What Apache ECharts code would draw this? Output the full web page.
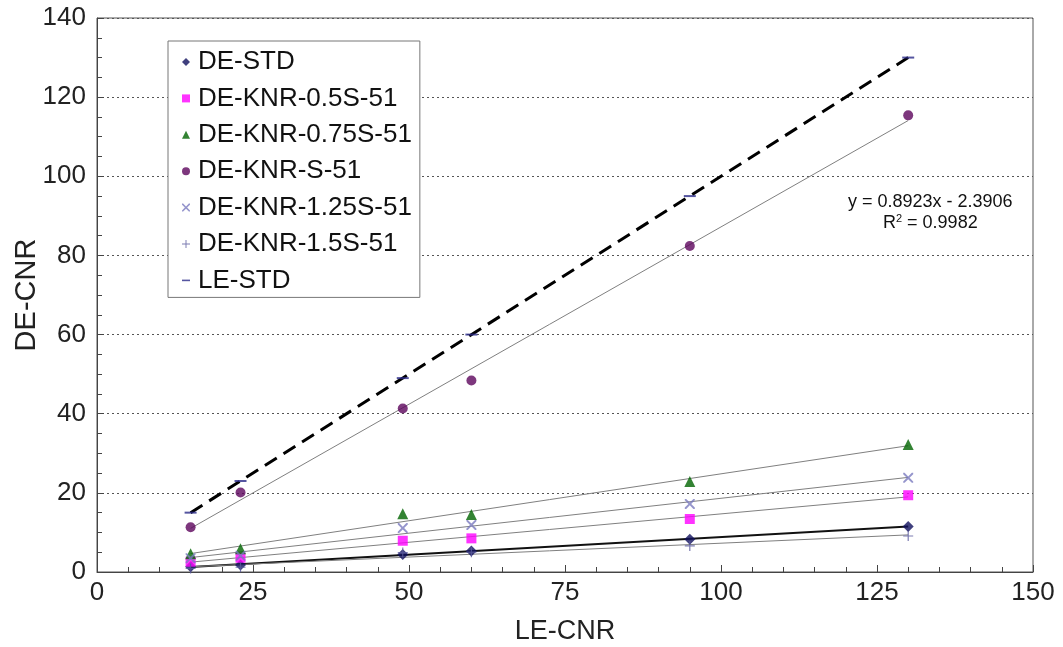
<!DOCTYPE html>
<html>
<head>
<meta charset="utf-8">
<style>
  html, body { margin: 0; padding: 0; background: #fff; }
  #chart { width: 1063px; height: 647px; }
</style>
<script src="https://cdn.jsdelivr.net/npm/echarts@6/dist/echarts.min.js"></script>
</head>
<body>
<div id="chart"></div>
<script>
// LE-CNR values (x) shared by every series
var leCnr = [15, 23, 49, 60, 95, 130];

// DE-CNR values
var deStd = [1.3, 1.8, 4.4, 5.3, 8.3, 11.5];
var knr05 = [2.6, 3.6, 7.9, 8.5, 13.4, 19.4];
var knr075 = [4.6, 5.9, 14.7, 14.5, 22.9, 32.2];
var knrS = [11.3, 20.1, 41.3, 48.4, 82.4, 115.4];
var knr125 = [3.5, 4.1, 11.1, 11.9, 17.2, 23.8];
var knr15 = [0.9, 1.2, 4.9, 5.0, 6.6, 9.1];
var leStd = [15, 23, 49, 60, 95, 130];

var xTicks = [0, 25, 50, 75, 100, 125, 150];
var yTicks = [0, 20, 40, 60, 80, 100, 120, 140];

var fitText = 'y = 0.8923x - 2.3906';
var r2Text = '0.9982';

var FONT = '"Liberation Sans", Arial, sans-serif';

var crossPath = 'path://M0,0 L1.4,0 L5,3.6 L8.6,0 L10,0 L10,1.4 L6.4,5 L10,8.6 L10,10 L8.6,10 L5,6.4 L1.4,10 L0,10 L0,8.6 L3.6,5 L0,1.4 Z';
var plusPath = 'path://M4.4,0 H5.6 V4.4 H10 V5.6 H5.6 V10 H4.4 V5.6 H0 V4.4 H4.4 Z';
var dashPath = 'path://M0,0 H10 V2 H0 Z';

function pairs(ys) {
  return leCnr.map(function (x, i) { return [x, ys[i]]; });
}

// least squares fit, drawn from the smallest to the largest x
function fitLine(ys) {
  var n = leCnr.length, sx = 0, sy = 0, sxx = 0, sxy = 0;
  for (var i = 0; i < n; i++) {
    sx += leCnr[i]; sy += ys[i];
    sxx += leCnr[i] * leCnr[i]; sxy += leCnr[i] * ys[i];
  }
  var b = (n * sxy - sx * sy) / (n * sxx - sx * sx);
  var a = (sy - b * sx) / n;
  var x0 = Math.min.apply(null, leCnr), x1 = Math.max.apply(null, leCnr);
  return [[x0, a + b * x0], [x1, a + b * x1]];
}

var defs = [
  { name: 'DE-STD', data: deStd, symbol: 'diamond', size: 11, color: '#10105e', fit: { color: '#111', width: 2 } },
  { name: 'DE-KNR-0.5S-51', data: knr05, symbol: 'rect', size: 10, color: '#ff00ff', fit: { color: '#808080', width: 1 } },
  { name: 'DE-KNR-0.75S-51', data: knr075, symbol: 'triangle', size: 11, color: '#006400', fit: { color: '#808080', width: 1 } },
  { name: 'DE-KNR-S-51', data: knrS, symbol: 'circle', size: 10, color: '#5c055c', fit: { color: '#808080', width: 1 } },
  { name: 'DE-KNR-1.25S-51', data: knr125, symbol: crossPath, size: 10, color: '#7b7bbf', fit: { color: '#808080', width: 1 } },
  { name: 'DE-KNR-1.5S-51', data: knr15, symbol: plusPath, size: 10, color: '#5a5a9e', fit: { color: '#808080', width: 1 } },
  { name: 'LE-STD', data: leStd, symbol: dashPath, size: [12, 2], color: '#2a2a88', fit: { color: '#000', width: 3, type: [14, 8] } }
];

var series = [];
defs.forEach(function (d) {
  series.push({
    name: d.name + ' fit',
    type: 'line',
    data: fitLine(d.data),
    symbol: 'none',
    silent: true,
    z: 1,
    lineStyle: { color: d.fit.color, width: d.fit.width, type: d.fit.type || 'solid' }
  });
});
defs.forEach(function (d) {
  series.push({
    name: d.name,
    type: 'scatter',
    data: pairs(d.data),
    symbol: d.symbol,
    symbolSize: d.size,
    itemStyle: { color: d.color },
    z: 3
  });
});

var legendData = defs.map(function (d) {
  return { name: d.name, icon: d.symbol };
});

var chart = echarts.init(document.getElementById('chart'));
chart.setOption({
  animation: false,
  backgroundColor: '#fff',
  textStyle: { fontFamily: FONT },
  grid: {
    left: 97, right: 30, top: 18, bottom: 75,
    outerBoundsMode: 'none',
    containLabel: false,
    show: true, borderColor: '#555', borderWidth: 1
  },
  legend: {
    data: legendData,
    orient: 'vertical',
    left: 168, top: 41,
    padding: [8, 8, 4, 14],
    itemWidth: 8, itemHeight: 8,
    itemGap: 10.4,
    borderColor: '#777', borderWidth: 1,
    backgroundColor: '#fff',
    textStyle: { fontSize: 26, color: '#111', lineHeight: 25, fontFamily: FONT, padding: [0, 0, 0, 3] }
  },
  xAxis: {
    type: 'value',
    min: 0, max: 150, interval: 25,
    name: 'LE-CNR',
    nameLocation: 'middle',
    nameGap: 46,
    nameTextStyle: { fontSize: 27, color: '#222' },
    axisLine: { lineStyle: { color: '#444' } },
    axisTick: { inside: true, length: 7, lineStyle: { color: '#444' } },
    minorTick: { show: true, splitNumber: 5, length: 5, lineStyle: { color: '#444' } },
    axisLabel: {
      fontSize: 26, color: '#222', margin: 8,
      formatter: function (v) { return xTicks.indexOf(v) >= 0 ? String(v) : ''; }
    },
    splitLine: { show: false }
  },
  yAxis: {
    type: 'value',
    min: 0, max: 140, interval: 20,
    name: 'DE-CNR',
    nameLocation: 'middle',
    nameGap: 56,
    nameMoveOverlap: false,
    nameTextStyle: { fontSize: 29, color: '#222' },
    axisLine: { lineStyle: { color: '#444' } },
    axisTick: { inside: true, length: 7, lineStyle: { color: '#444' } },
    minorTick: { show: true, splitNumber: 4, length: 5, lineStyle: { color: '#444' } },
    axisLabel: {
      fontSize: 26, color: '#222', margin: 11,
      formatter: function (v) { return yTicks.indexOf(v) >= 0 ? String(v) : ''; }
    },
    splitLine: { show: true, lineStyle: { color: '#555', type: [2, 3], width: 1 } }
  },
  graphic: [{
    type: 'text',
    left: 848, top: 192,
    style: {
      text: fitText + '\n{r|R}{sup|2}{r| = ' + r2Text + '}',
      fontSize: 18, fontFamily: FONT, fill: '#111',
      textAlign: 'center', lineHeight: 21,
      rich: {
        r: { fontSize: 18, fontFamily: FONT, fill: '#111' },
        sup: { fontSize: 11, fontFamily: FONT, fill: '#111', verticalAlign: 'top', padding: [0, 0, 9, 0] }
      }
    }
  }],
  series: series
});
</script>
</body>
</html>
